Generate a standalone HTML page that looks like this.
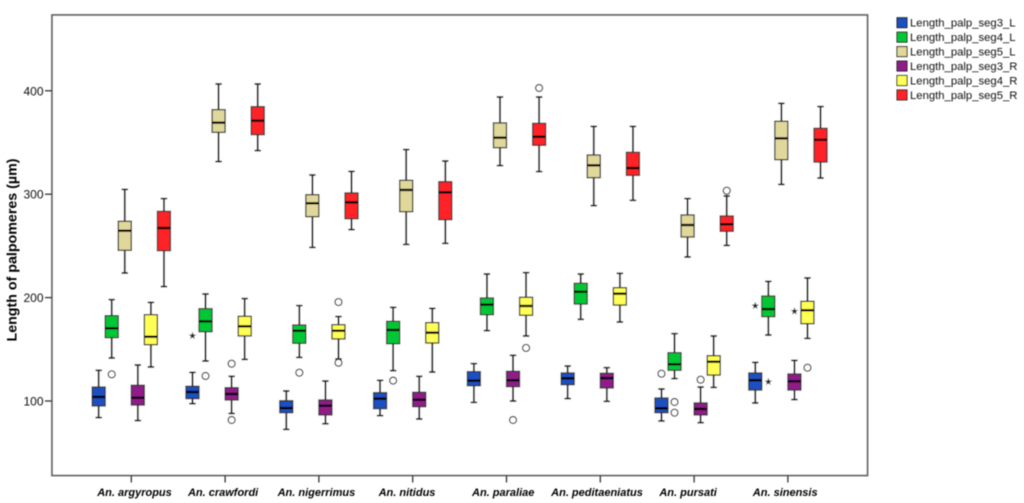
<!DOCTYPE html>
<html lang="en">
<head>
<meta charset="utf-8">
<title>Length of palpomeres box plot</title>
<style>
html,body{margin:0;padding:0;background:#fff;width:1024px;height:503px;overflow:hidden}
svg{display:block}
text{font-family:"Liberation Sans",sans-serif}
</style>
</head>
<body>
<svg id="chart" xmlns="http://www.w3.org/2000/svg" width="1024" height="503" viewBox="0 0 1024 503">
<defs><filter id="soft" x="-5%" y="-5%" width="110%" height="110%"><feGaussianBlur stdDeviation="0.42"/></filter></defs>
<g id="root" filter="url(#soft)"></g>
</svg>
<script>
const categories = ["An. argyropus","An. crawfordi","An. nigerrimus","An. nitidus","An. paraliae","An. peditaeniatus","An. pursati","An. sinensis"];
const seriesNames = ["Length_palp_seg3_L","Length_palp_seg4_L","Length_palp_seg5_L","Length_palp_seg3_R","Length_palp_seg4_R","Length_palp_seg5_R"];
const seriesColors = ["#1c4fc0","#00c836","#e0d89a","#8f1a88","#ffff55","#ff2028"];
const yTicks = [100,200,300,400];

// each row: [low whisker, Q1, median, Q3, high whisker], one row per category
const seg3L = [[83.9,95.2,103.9,113.5,129.7],[97.4,102.3,108.7,114.2,127.7],[72.6,88.7,93.2,100.3,109.7],[85.8,92.6,102.3,108.1,120],[98.7,114.8,119.7,128.4,136.1],[102.3,115.8,121.9,127.1,133.8],[80.7,88.7,92.9,102.9,111.6],[98.1,110.6,120,127.1,137.4]];
const seg4L = [[141.6,161.3,170.3,182.5,198],[138.7,167,177,189.3,203.5],[142.2,155.8,168,173.5,192.2],[129.3,155.4,168.7,177,190.6],[168,183.5,193.2,199.6,222.8],[179,193.8,205.7,213.8,222.8],[121.6,129.7,135.5,146.7,165.1],[163.8,181.6,188.9,201.5,215.7]];
const seg5L = [[223.8,245.7,264.7,273.8,304.7],[331.5,359.8,369.2,381.8,406.6],[248.6,278.3,291.2,299.5,318.6],[251.5,283.1,304.1,313.4,343.1],[327.6,345,354.7,368.9,394],[288.9,316,327.9,337.9,365.6],[239.3,258.6,270.2,279.9,295.7],[309.5,333.4,354,370.5,387.9]];
const seg3R = [[81,96.1,103.2,115.2,134.8],[88,101,106.8,112.9,123.9],[78,86.5,95.5,101,119.3],[82.6,94.5,101.3,108.4,123.9],[100,113.9,120,128.7,144.2],[99.7,112.6,122.2,126.8,132.2],[79,86.5,92.3,98.1,113.5],[101.3,110.6,119,126.1,139.3]];
const seg4R = [[132.9,154.5,162.2,183.5,195.4],[140.3,162.9,172.2,181.9,199],[140.6,160,168,173.8,181.6],[128,156.1,166.1,175.8,189.6],[162.9,182.9,191.9,200.3,224.1],[176.4,192.8,203.8,209.6,223.5],[113.2,125.1,138,143.8,162.9],[160.6,174.8,187.7,196.4,219]];
const seg5R = [[210.6,245.4,267.3,283.4,295.7],[342.1,357.6,371.1,384.7,406.6],[265.7,276.3,292.1,301.2,322.1],[252.5,275.4,301.8,312.1,332.1],[321.8,347.3,355.6,368.5,394],[294.1,318.2,325.3,340.5,365.6],[250.5,264.1,270.9,278.9,298.3],[315.6,331.1,352.7,363.7,384.7]];

// outliers as [category index, series index, value]
const circleOutliers = [[0,1,125.8],[1,1,124.2],[1,3,136.1],[1,3,81.6],[2,1,127.4],[2,4,195.7],[2,4,137],[3,1,119.7],[4,3,81.6],[4,4,151.3],[4,5,402.7],[6,0,126.4],[6,1,99],[6,1,88.7],[6,3,120.6],[6,5,303.4],[7,4,132.2]];
const starOutliers = [[1,0,163.2],[7,0,192.5],[7,1,119],[7,3,187]];

const allSeries = [seg3L,seg4L,seg5L,seg3R,seg4R,seg5R];
const NS = "http://www.w3.org/2000/svg";
const root = document.getElementById("root");
const plotL = 52, plotR = 867.5, plotT = 15, plotB = 475.5;
function yPos(v){ return 401 - (v - 100) * 1.034; }
function catX(i){ return 131.3 + i * 93.8; }
function seriesX(c, s){ return catX(c) + (s - 2.5) * 13.05; }
function mk(tag, attrs, parent){
  const e = document.createElementNS(NS, tag);
  for (const k in attrs) e.setAttribute(k, attrs[k]);
  (parent || root).appendChild(e);
  return e;
}
const ink = "#111";

// plot frame
const frame = mk("rect", {x:plotL, y:plotT, width:plotR-plotL, height:plotB-plotT, fill:"#fff", stroke:"#666", "stroke-width":1.8});



// y axis
yTicks.forEach(function(t){
  const tick = mk("line", {x1:plotL-7, x2:plotL, y1:yPos(t), y2:yPos(t), stroke:"#333", "stroke-width":1.3});
  
  
  const lab = mk("text", {x:plotL-8.5, y:yPos(t)+4.5, "text-anchor":"end", "font-size":12, fill:"#111"});
  lab.textContent = t;
  
  
});
const yTitle = mk("text", {transform:"translate(16.5,250) rotate(-90)", "text-anchor":"middle", "font-size":13.5, "font-weight":"bold", fill:"#000", textLength:183, lengthAdjust:"spacingAndGlyphs"});
yTitle.textContent = "Length of palpomeres (\u00b5m)";



// x axis
const labelShift = [3.2,-2,-2.5,-5.7,-3.3,-3.3,-6,-2.7];
categories.forEach(function(name, i){
  const tick = mk("line", {x1:catX(i), x2:catX(i), y1:plotB, y2:plotB+7, stroke:"#333", "stroke-width":1.3});
  
  
  const lab = mk("text", {x:catX(i)+labelShift[i], y:496, "text-anchor":"middle", "font-size":11, "font-weight":"bold", "font-style":"italic", fill:"#000"});
  lab.textContent = name;
  
  
});

// boxes
allSeries.forEach(function(rows, s){
  rows.forEach(function(r, c){
    const x = seriesX(c, s), hw = 6.5, cap = 3.2;
    const g = mk("g", {});
    
    
    mk("line", {x1:x, x2:x, y1:yPos(r[0]), y2:yPos(r[4]), stroke:ink, "stroke-width":1.8}, g);
    mk("line", {x1:x-cap, x2:x+cap, y1:yPos(r[0]), y2:yPos(r[0]), stroke:ink, "stroke-width":1.7}, g);
    mk("line", {x1:x-cap, x2:x+cap, y1:yPos(r[4]), y2:yPos(r[4]), stroke:ink, "stroke-width":1.7}, g);
    mk("rect", {x:x-hw, y:yPos(r[3]), width:hw*2, height:yPos(r[1])-yPos(r[3]), fill:seriesColors[s], stroke:"#333", "stroke-width":1.3}, g);
    mk("line", {x1:x-hw, x2:x+hw, y1:yPos(r[2]), y2:yPos(r[2]), stroke:"#000", "stroke-width":2.4}, g);
  });
});

// outliers
circleOutliers.forEach(function(o){
  const c = mk("circle", {cx:seriesX(o[0],o[1]), cy:yPos(o[2]), r:3.5, fill:"#fff", stroke:"#333", "stroke-width":1.2});
  
  
});
starOutliers.forEach(function(o){
  const t = mk("text", {x:seriesX(o[0],o[1]), y:yPos(o[2])+3.5, "text-anchor":"middle", "font-size":10, fill:"#222", style:'font-family:"DejaVu Sans",sans-serif'});
  t.textContent = "\u2605";
  
  
});

// legend
seriesNames.forEach(function(name, i){
  const y = 22.7 + i * 14.45;
  const g = mk("g", {});
  
  
  mk("rect", {x:897, y:y-5, width:10, height:10, fill:seriesColors[i], stroke:"#222", "stroke-width":1}, g);
  const t = mk("text", {x:910, y:y+4, "font-size":11.3, fill:"#111"}, g);
  t.textContent = name;
});
</script>
</body>
</html>
